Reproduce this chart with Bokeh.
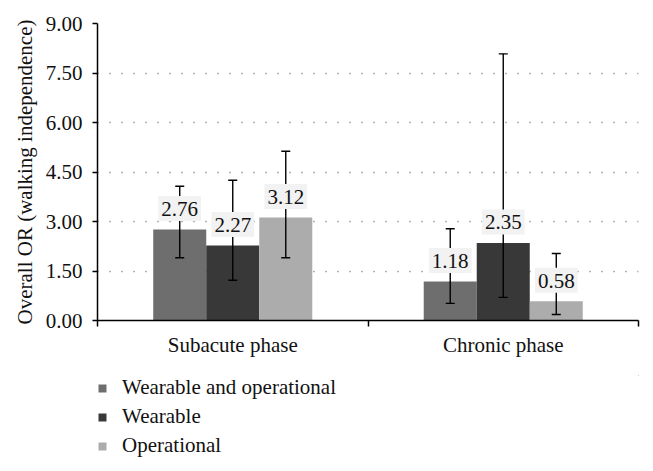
from bokeh.plotting import figure
from bokeh.layouts import column
from bokeh.models import FixedTicker, Legend, LegendItem, ColumnDataSource, NumeralTickFormatter, Range1d
from bokeh.core.properties import value
from bokeh.embed import file_html
from bokeh.resources import INLINE

categories = ["Subacute phase", "Chronic phase"]
series = ["Wearable and operational", "Wearable", "Operational"]
colors = ["#6e6e6e", "#383838", "#acacac"]
values = {
    "Wearable and operational": [2.76, 1.18],
    "Wearable": [2.27, 2.35],
    "Operational": [3.12, 0.58],
}
lower = {
    "Wearable and operational": [1.90, 0.52],
    "Wearable": [1.22, 0.70],
    "Operational": [1.90, 0.18],
}
upper = {
    "Wearable and operational": [4.07, 2.78],
    "Wearable": [4.25, 8.08],
    "Operational": [5.13, 2.03],
}
y_ticks = [0, 1.5, 3, 4.5, 6, 7.5, 9]

FONT = "Liberation Serif"
FS = "21px"

p = figure(output_backend="svg", toolbar_location=None,
           width=645, height=368,
           x_range=Range1d(0, 2), y_range=Range1d(0, 9),
           min_border_left=97, min_border_top=23, min_border_right=7, min_border_bottom=48)
p.outline_line_color = None
p.background_fill_color = "white"

bar_w = 0.196
offsets = [-bar_w, 0, bar_w]
renderers = []
for s, c, off in zip(series, colors, offsets):
    xs = [i + 0.5 + off for i in range(len(categories))]
    src = ColumnDataSource(dict(x=xs, top=values[s], lo=lower[s], hi=upper[s],
                                lab=["%.2f" % v for v in values[s]]))
    p.vbar(x="x", top="top", width=bar_w, source=src, fill_color=c, line_color=None)
    renderers.append((s, c, src))

for s, c, src in renderers:
    p.segment(x0="x", y0="lo", x1="x", y1="hi", source=src, line_color="black", line_width=1.4)
    p.scatter(x="x", y="lo", source=src, marker="dash", size=9, line_color="black", line_width=1.4)
    p.scatter(x="x", y="hi", source=src, marker="dash", size=9, line_color="black", line_width=1.4)

for s, c, src in renderers:
    p.text(x="x", y="top", text="lab", source=src, text_align="center", text_baseline="middle",
           y_offset=-21, text_font=value(FONT), text_font_size=FS, text_color="#111111",
           background_fill_color="#f2f2f2",
           padding=dict(left=3, right=3, top=6, bottom=5))

# axes
xa = p.xaxis[0]
xa.ticker = FixedTicker(ticks=[0.5, 1.5], minor_ticks=[0, 1, 2])
xa.major_label_overrides = {0.5: categories[0], 1.5: categories[1]}
xa.major_tick_line_color = None
xa.minor_tick_out = 6
xa.minor_tick_in = 0
xa.minor_tick_line_color = "black"
xa.minor_tick_line_width = 1.5
xa.axis_line_width = 1.5
xa.major_label_text_font = FONT
xa.major_label_text_font_size = FS
xa.major_label_text_color = "#111111"
xa.major_label_standoff = 6

ya = p.yaxis[0]
ya.ticker = FixedTicker(ticks=y_ticks)
ya.formatter = NumeralTickFormatter(format="0.00")
ya.minor_tick_line_color = None
ya.major_tick_out = 5
ya.major_tick_in = 0
ya.major_tick_line_width = 1.5
ya.axis_line_width = 1.5
ya.major_label_text_font = FONT
ya.major_label_text_font_size = FS
ya.major_label_text_color = "#111111"
ya.major_label_standoff = 10
ya.axis_label = "Overall OR (walking independence)"
ya.axis_label_text_font = FONT
ya.axis_label_text_font_size = FS
ya.axis_label_text_font_style = "normal"
ya.axis_label_text_color = "#111111"
ya.axis_label_standoff = 6

p.xgrid.grid_line_color = None
p.ygrid.grid_line_color = "#666666"
p.ygrid.grid_line_dash = "1 11"
p.ygrid.grid_line_width = 1.5

# legend figure (its bars lie outside its visible ranges; only the legend shows)
q = figure(output_backend="svg", toolbar_location=None, width=645, height=95,
           x_range=Range1d(-3, -2), y_range=Range1d(-3, -2),
           min_border_left=97, min_border_top=7, min_border_right=7, min_border_bottom=0)
q.axis.visible = False
q.grid.visible = False
q.outline_line_color = None
leg_items = []
for s, c, src in renderers:
    rr = q.vbar(x="x", top="top", width=bar_w, source=src, fill_color=c, line_color=None)
    leg_items.append(LegendItem(label=s, renderers=[rr]))

legend = Legend(items=leg_items, orientation="vertical", location="top_left",
                label_text_font=FONT, label_text_font_size=FS, label_text_color="#111111",
                glyph_width=10, glyph_height=10, label_standoff=15, spacing=4,
                padding=0, margin=0, border_line_color=None, background_fill_alpha=0,
                label_height=24)
q.add_layout(legend, "center")

open("out.html", "w").write(file_html(column(p, q, spacing=0), INLINE))
